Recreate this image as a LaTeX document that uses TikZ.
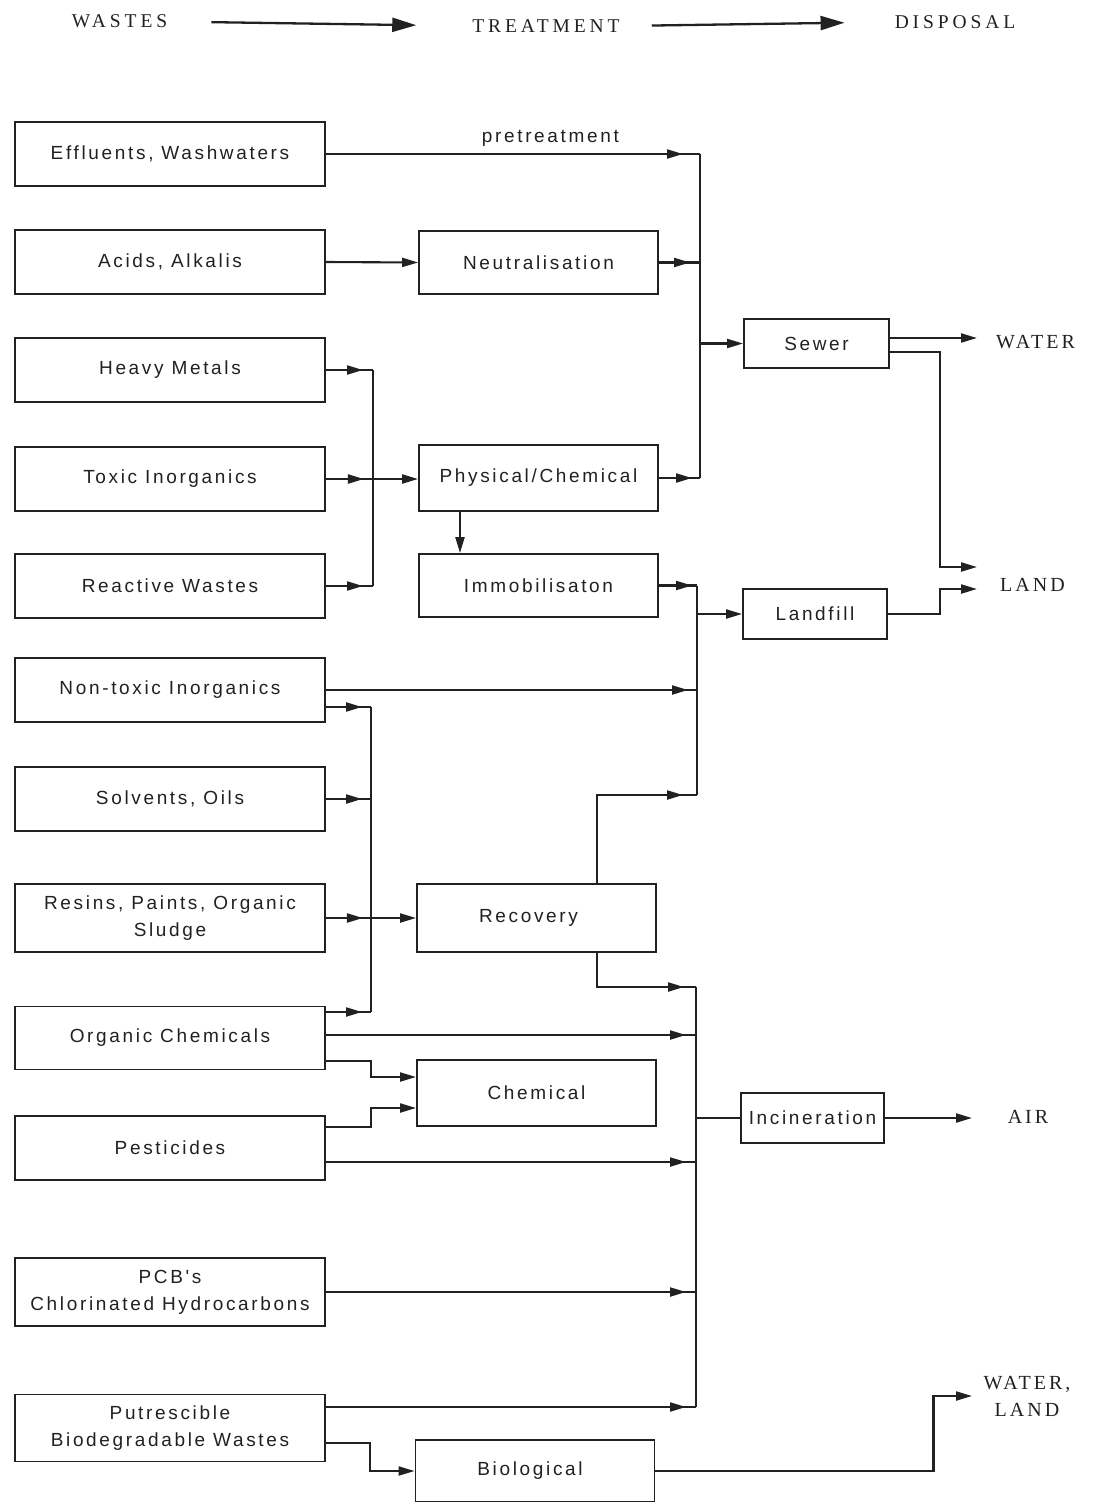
\documentclass[tikz,border=0pt]{standalone}
\usepackage{fontspec}
\setmainfont{Liberation Sans}
\newfontfamily\boxfont[LetterSpace=14]{Liberation Sans}
\newfontfamily\capfont[LetterSpace=15]{Liberation Serif}
\newfontfamily\hdrfont[LetterSpace=20]{Liberation Serif}
\usetikzlibrary{arrows.meta,decorations.markings}
\definecolor{ink}{gray}{0.13}

\tikzset{
  wire/.style={ink, line width=2.1pt},
  arr/.style={wire, -{Triangle[length=16pt,width=9pt]}},
  tobus/.style={wire, postaction={decorate},
    decoration={markings, mark=at position -#1 with {\arrow{Triangle[length=16pt,width=9pt]}}}},
  tobus/.default=8pt,
  tipat/.style={postaction={decorate},
    decoration={markings, mark=at position #1 with {\arrow{Triangle[length=16pt,width=9pt]}}}},
  box/.style={draw=ink, line width=1.9pt, inner sep=0pt, align=center, text=ink,
    font=\boxfont\fontsize{19}{27}\selectfont},
  waste/.style={box, minimum width=310pt, minimum height=64pt},
  treat/.style={box, minimum width=239pt, minimum height=63pt},
  disp/.style={box, minimum width=144pt, minimum height=50pt},
  outcome/.style={inner sep=0pt, align=center, text=ink, font=\capfont\fontsize{20}{27}\selectfont},
  hdr/.style={inner sep=0pt, text=ink, font=\hdrfont\fontsize{19.5}{24}\selectfont},
  harr/.style={ink, line width=2.3pt, -{Triangle[length=24pt,width=14pt]}},
  lbl/.style={inner sep=0pt, text=ink, font=\boxfont\fontsize{19}{24}\selectfont}
}

\begin{document}
\begin{tikzpicture}[x=1pt,y=-1pt]
\useasboundingbox (0,0) rectangle (1093,1502);
\fill[white] (0,0) rectangle (1093,1502);

% column headings
\node[hdr] (hw) at (119.5,21.5) {WASTES};
\node[hdr] (ht) at (546,26) {TREATMENT};
\node[hdr] (hd) at (955,22) {DISPOSAL};
\draw[harr, shorten <=44pt, shorten >=56pt] (hw.east) -- (ht.west);
\draw[harr, shorten <=32pt, shorten >=50pt] (ht.east) -- (hd.west);

% waste streams
\node[waste] (eff) at (170,154) {Effluents, Washwaters};
\node[waste] (acid) at (170,262) {Acids, Alkalis};
\node[waste] (heavy) at (170,370) {Heavy Metals};
\node[waste] (toxic) at (170,479) {Toxic Inorganics};
\node[waste] (react) at (170,586) {Reactive Wastes};
\node[waste] (nontox) at (170,690) {Non-toxic Inorganics};
\node[waste] (solv) at (170,799) {Solvents, Oils};
\node[waste, minimum height=68pt] (resin) at (170,918) {Resins, Paints, Organic\\Sludge};
\node[waste, minimum height=63pt] (orgch) at (170,1038) {Organic Chemicals};
\node[waste] (pest) at (170,1148) {Pesticides};
\node[waste, minimum height=68pt] (pcb) at (170,1292) {PCB's\\Chlorinated Hydrocarbons};
\node[waste, minimum height=67pt] (putr) at (170,1428) {Putrescible\\Biodegradable Wastes};

% treatment processes
\node[treat] (neut) at (538.5,262.5) {Neutralisation};
\node[treat, minimum height=66pt] (phys) at (538.5,478) {Physical/Chemical};
\node[treat] (immob) at (538.5,585.5) {Immobilisaton};
\node[treat, minimum height=68pt] (recov) at (536.5,918) {\hspace*{-16pt}Recovery};
\node[treat, minimum height=66pt] (chem) at (536.5,1093) {Chemical};
\node[treat, minimum height=62pt] (bio) at (535,1471) {\hspace*{-10pt}Biological};

% disposal routes
\node[disp, minimum width=145pt, minimum height=49pt] (sewer) at (816.5,343.5) {Sewer};
\node[disp] (landfill) at (815,614) {Landfill};
\node[disp, minimum width=143pt] (incin) at (812.5,1118) {Incineration};

% final destinations
\node[outcome] (water) at (1035.5,342) {WATER};
\node[outcome] (land) at (1032.5,585) {LAND};
\node[outcome] (air) at (1028,1117) {AIR};
\node[outcome] (wl) at (1027,1396) {WATER,\\LAND};
\coordinate (wIn) at (977,338);
\coordinate (lIn1) at (977,567);
\coordinate (lIn2) at (977,589);
\coordinate (aIn) at (972,1118);
\coordinate (wlIn) at (972,1396);

% bus lines
\coordinate (b1top) at (700,154);
\coordinate (b1bot) at (700,478);
\coordinate (b2top) at (697,586);
\coordinate (b2bot) at (697,795);
\coordinate (bAtop) at (373,370);
\coordinate (bAbot) at (373,586);
\coordinate (bBtop) at (371,707);
\coordinate (bBbot) at (371,1012);
\coordinate (b3top) at (696,987);
\coordinate (b3bot) at (696,1407);
\draw[wire] (b1top) -- (b1bot);
\draw[wire] (b2top) -- (b2bot);
\draw[wire] (bAtop) -- (bAbot);
\draw[wire] (bBtop) -- (bBbot);
\draw[wire] (b3top) -- (b3bot);

% to the sewer
\draw[tobus=17pt] (eff.east) -- node[lbl, pos=0.6, above=7pt] (pre) {pretreatment} (b1top);
\draw[arr] (acid.east) -- (neut.west);
\draw[tobus=10pt] (neut.east) -- (neut.east -| b1top);
\draw[tobus=8pt] (phys.east) -- (phys.east -| b1top);
\draw[arr] (sewer.west -| b1top) -- (sewer.west);
\draw[arr] (sewer.east |- wIn) -- (wIn);
\draw[arr] ([yshift=-8.5pt]sewer.east) -- ++(50,0) |- (lIn1);

% physical / chemical treatment
\draw[tobus=10pt] (heavy.east) -- (bAtop);
\draw[tobus=10pt] (react.east) -- (bAbot);
\draw[arr, tipat=38pt] (toxic.east) -- (toxic.east -| phys.west);
\draw[arr] ([xshift=-78.5pt]phys.south) -- ([xshift=-78.5pt]immob.north);

% to landfill
\draw[tobus=5pt] (immob.east) -- (immob.east -| b2top);
\draw[arr] (landfill.west -| b2top) -- (landfill.west);
\draw[arr] (landfill.east) -- ++(52,0) |- (lIn2);
\draw[tobus=9pt] (nontox.east) -- (nontox.east -| b2top);
\draw[tobus=14pt] ([xshift=60.5pt]recov.north) |- (b2bot);

% recovery
\draw[tobus=9pt] ([yshift=-17pt]nontox.east) -- (bBtop);
\draw[tobus=9pt] (solv.east) -- (solv.east -| bBtop);
\draw[tobus=9pt] ([yshift=26pt]orgch.east) -- (bBbot);
\draw[arr, tipat=37pt] (resin.east) -- (resin.east -| recov.west);

% to incineration
\draw[tobus=12pt] ([xshift=60.5pt]recov.south) |- (b3top);
\draw[tobus=10pt] ([yshift=3pt]orgch.east) coordinate (oc) -- (oc -| b3top);
\draw[arr] ([yshift=-23pt]orgch.east) -- ++(45,0) |- ([yshift=16pt]chem.west);
\draw[arr] ([yshift=21pt]pest.east) -- ++(45,0) |- ([yshift=-15pt]chem.west);
\draw[tobus=10pt] ([yshift=-14pt]pest.east) coordinate (pc) -- (pc -| b3top);
\draw[tobus=10pt] (pcb.east) -- (pcb.east -| b3top);
\draw[tobus=10pt] ([yshift=21pt]putr.east) -- (b3bot);
\draw[wire] (incin.west -| b3top) -- (incin.west);
\draw[arr] (incin.east) -- (aIn);

% biological treatment
\draw[arr] ([yshift=-15pt]putr.east) -- ++(44,0) |- (bio.west);
\draw[arr] (bio.east) -- ++(278,0) |- (wlIn);
\end{tikzpicture}
\end{document}
